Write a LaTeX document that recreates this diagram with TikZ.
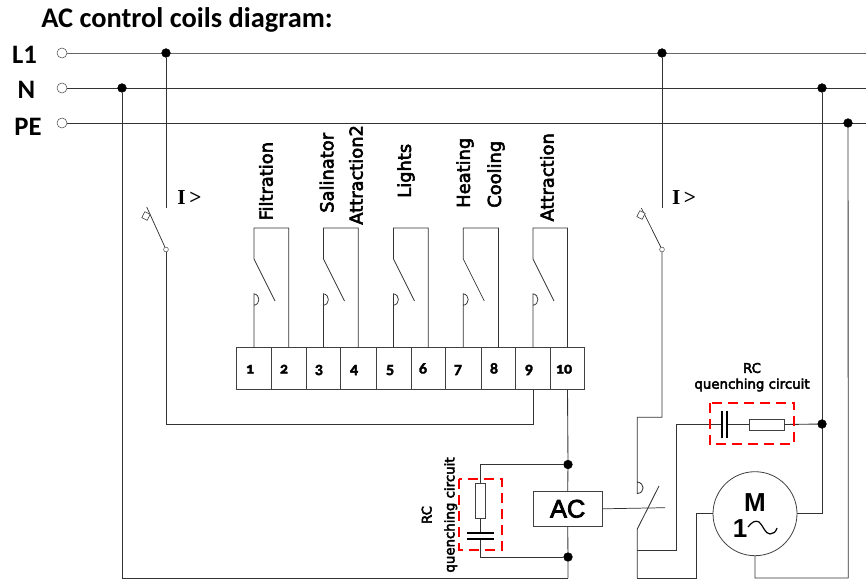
\documentclass[tikz,border=0pt]{standalone}
\usepackage{fontspec}
\setmainfont{Carlito}
\newfontfamily\numf[Numbers=OldStyle]{Carlito}
\newfontfamily\dejav{DejaVu Sans}
\newfontfamily\arialf{Liberation Sans}
\newfontfamily\timesf{Liberation Serif}
\newcommand{\heavy}[2]{\special{pdf:code q 2 Tr #1 w}#2\special{pdf:code Q}}
\definecolor{wire}{gray}{0.2}
\begin{document}
\begin{tikzpicture}[x=0.75pt,y=-0.75pt,
  wireline/.style={draw=wire,line width=0.65pt},
  thin wire/.style={draw=wire,line width=0.55pt},
  jdot/.style={circle,fill=black,draw=black,inner sep=0pt,minimum size=6.5pt},
  opent/.style={circle,draw=black!70,fill=white,line width=0.4pt,inner sep=0pt,minimum size=7.5pt},
  smallc/.style={circle,draw=black!70,fill=white,line width=0.4pt,inner sep=0pt,minimum size=3.6pt},
  linelabel/.style={font=\fontsize{20}{24}\bfseries\selectfont,inner sep=0pt},
  cell/.style={draw=black!75,line width=0.6pt,minimum height=31.2pt,inner sep=0pt,anchor=center},
  cellnum/.style={font=\numf\fontsize{12}{14}\bfseries\selectfont,inner sep=0pt,anchor=base},
  relaylabel/.style={font=\dejav\fontsize{13.4}{15}\selectfont,rotate=90,anchor=west,inner sep=0pt},
  rcbox/.style={draw=red,line width=1.7pt,dash pattern=on 7.5pt off 4.5pt},
  resistor/.style={draw=black!75,fill=white,line width=0.6pt,inner sep=0pt},
  rclabel/.style={font=\dejav\fontsize{10}{11}\selectfont,inner sep=0pt},
  ilabel/.style={font=\timesf\fontsize{16}{18}\bfseries\selectfont,inner sep=0pt},
  plate/.style={line width=1.5pt,draw=black},
  latch/.style={draw=black!80,fill=white,line width=0.4pt,rotate=-27,minimum width=4.5pt,minimum height=5pt,inner sep=0pt}
]
\useasboundingbox (0,0) rectangle (866,581);

% title and line labels
\node[font=\fontsize{21.3}{24}\bfseries\selectfont,anchor=base west,inner sep=0pt] (title) at (41,28) {AC control coils diagram:};
\node[linelabel] (labL) at (24.5,55) {L1};
\node[linelabel] (labN) at (26.5,90) {N};
\node[linelabel] (labPE) at (28,127) {PE};

% supply terminals and junctions
\node[opent] (tL) at (62,53) {};
\node[opent] (tN) at (62,88) {};
\node[opent] (tPE) at (62,123) {};
\coordinate (eL) at (866,53);
\coordinate (eN) at (866,88);
\coordinate (ePE) at (866,123);
\draw[wireline,draw=black!60] (tL) -- (eL);
\draw[wireline] (tN) -- (eN);
\draw[wireline] (tPE) -- (ePE);
\node[jdot] (jL1) at (166,53) {};
\node[jdot] (jL2) at (662,53) {};
\node[jdot] (jN1) at (122,88) {};
\node[jdot] (jN2) at (822,88) {};
\node[jdot] (jPE) at (848,123) {};

% terminal strip
\foreach \n/\a/\b/\tx in {1/236.7/271.3/250,2/271.3/306.3/284,3/306.3/340.7/319,4/340.7/376/354,5/376/411/390,6/411/445.3/423,7/445.3/481.3/458,8/481.3/515.7/494,9/515.7/550.3/529,10/550.3/584.7/564}{
  \pgfmathsetmacro{\w}{(\b-\a)*0.75}
  \pgfmathsetmacro{\c}{(\a+\b)/2}
  \node[cell,minimum width=\w pt] (t\n) at (\c,368.5) {};
  \node[cellnum] (num\n) at (\tx,373.5) {\heavy{0.25}{\n}};
}

% relays
\foreach \p/\q in {1/2,3/4,5/6,7/8,9/10}{
  \draw[thin wire] (t\p.north) -- ++(0,-53.5) coordinate (bmp\p)
     .. controls +(6.5,1) and +(6.5,-1) .. ++(0,11.5);
  \draw[thin wire] (t\q.north) |- (bmp\p |- 0,228) -- (bmp\p |- 0,259) -- ++(21,42);
}

% relay labels
\node[relaylabel] (lf) at (266,220.7) {\heavy{0.45}{Filtration}};
\node[relaylabel] (ls) at (326.7,213) {\heavy{0.45}{Salinator}};
\node[relaylabel] (la2) at (356,225) {\heavy{0.45}{Attraction2}};
\node[relaylabel] (ll) at (406,198) {\heavy{0.45}{Lights}};
\node[relaylabel] (lh) at (465,208) {\heavy{0.45}{Heating}};
\node[relaylabel] (lc) at (496,208) {\heavy{0.45}{Cooling}};
\node[relaylabel] (la) at (547,221.7) {\heavy{0.45}{Attraction}};

% left breaker
\coordinate (b1top) at (166,208);
\node[smallc] (b1c) at (166,249.5) {};
\coordinate (b1tip) at (146.7,207);
\draw[wireline] (jL1) -- (b1top);
\draw[thin wire] (b1tip) -- (b1c);
\node[latch] (b1l) at (146,216) {};
\node[ilabel] (i1) at (189.5,198) {I\,>};
\coordinate (b1r) at (166,424);
\draw[wireline] (b1c) -- (b1r) -| (t9.south);

% right breaker
\coordinate (b2top) at (662,208);
\node[smallc] (b2c) at (662,249.5) {};
\coordinate (b2tip) at (641.3,208);
\draw[wireline] (jL2) -- (b2top);
\draw[thin wire] (b2tip) -- (b2c);
\node[latch] (b2l) at (641,215) {};
\node[ilabel] (i2) at (684,198) {I\,>};

% AC coil
\node[draw=black!75,line width=0.6pt,fill=white,minimum width=52pt,minimum height=26.2pt,inner sep=0pt,font=\arialf\fontsize{19}{21}\selectfont] (ac) at (567.7,508.8) {\heavy{0.6}{AC}};
\node[jdot] (jA) at (568,464.5) {};
\node[jdot] (jB) at (568,557) {};
\coordinate (bot1) at (568,578);
\draw[wireline] (t10.south) -- (jA) -- (ac.north);
\draw[wireline] (ac.south) -- (jB) -- (bot1);
\draw[wireline] (jN1) |- (bot1);

% RC vertical
\node[resistor,minimum width=7.9pt,minimum height=25.8pt] (r1) at (480.5,501) {};
\coordinate (c1a) at (480.5,533.3);
\coordinate (c1b) at (480.5,539);
\draw[wireline] (jA) -| (r1.north);
\draw[wireline] (r1.south) -- (c1a);
\draw[wireline] (c1b) |- (jB);
\draw[plate] (467,533.3) -- (494,533.3);
\draw[plate] (467,539) -- (494,539);
\draw[rcbox] (459.3,479.3) rectangle (501.7,550);
\node[rclabel,rotate=90] (rc1a) at (426.7,515) {\heavy{0.35}{RC}};
\node[rclabel,rotate=90] (rc1b) at (450.7,515) {\heavy{0.35}{quenching circuit}};

% contactor contacts
\coordinate (k1) at (637.3,417.3);
\coordinate (k2) at (637.3,482);
\coordinate (k3) at (637.3,493.5);
\draw[wireline] (b2c) |- (k1) -- (k3) .. controls (645,493) and (645,483) .. (k2);
\coordinate (k4) at (637.3,529);
\coordinate (k5) at (659,486);
\coordinate (k6) at (637.3,550);
\coordinate (k7) at (637.3,578);
\draw[wireline] (k5) -- (k4) -- (k7);
\coordinate (acr) at (665,507.7);
\draw[thin wire] (ac.east) -- (acr);

% motor
\node[circle,draw=black!75,line width=0.6pt,minimum size=63pt,inner sep=0pt] (m) at (755,513.7) {};
\node[font=\arialf\fontsize{19.5}{21}\bfseries\selectfont,inner sep=0pt] (mM) at (755,503) {M};
\node[font=\arialf\fontsize{19.5}{21}\bfseries\selectfont,inner sep=0pt] (m1) at (740,529) {1};
\draw[line width=0.9pt] (748,527) .. controls (752,522) and (755,520) .. (759,522) .. controls (763,525) and (765,534) .. (770,534) .. controls (773,534) and (776,532) .. (777,528);
\coordinate (mb) at (696.7,578);
\draw[wireline] (k7) -- (mb) |- (m.west);
\draw[wireline] (m.east) -| (jN2);
\coordinate (mc) at (848.3,578);
\draw[wireline] (m.south) |- (mc) -- (jPE);

% RC horizontal
\node[jdot] (jR) at (822,424) {};
\node[resistor,minimum width=26.2pt,minimum height=8.2pt] (r2) at (766.8,424.5) {};
\coordinate (c2a) at (721.7,424.5);
\coordinate (c2b) at (727.3,424.5);
\coordinate (k8) at (676,550);
\draw[wireline] (k6) -- (k8) |- (c2a);
\draw[wireline] (c2b) -- (r2.west);
\draw[wireline] (r2.east) -- (jR);
\draw[plate] (721.7,411) -- (721.7,437.7);
\draw[plate] (727.3,411) -- (727.3,437.7);
\draw[rcbox] (710,402.7) rectangle (794.3,444.3);
\node[rclabel] (rc2a) at (752,368) {\heavy{0.35}{RC}};
\node[rclabel] (rc2b) at (752,385) {\heavy{0.35}{quenching circuit}};
\end{tikzpicture}
\end{document}
